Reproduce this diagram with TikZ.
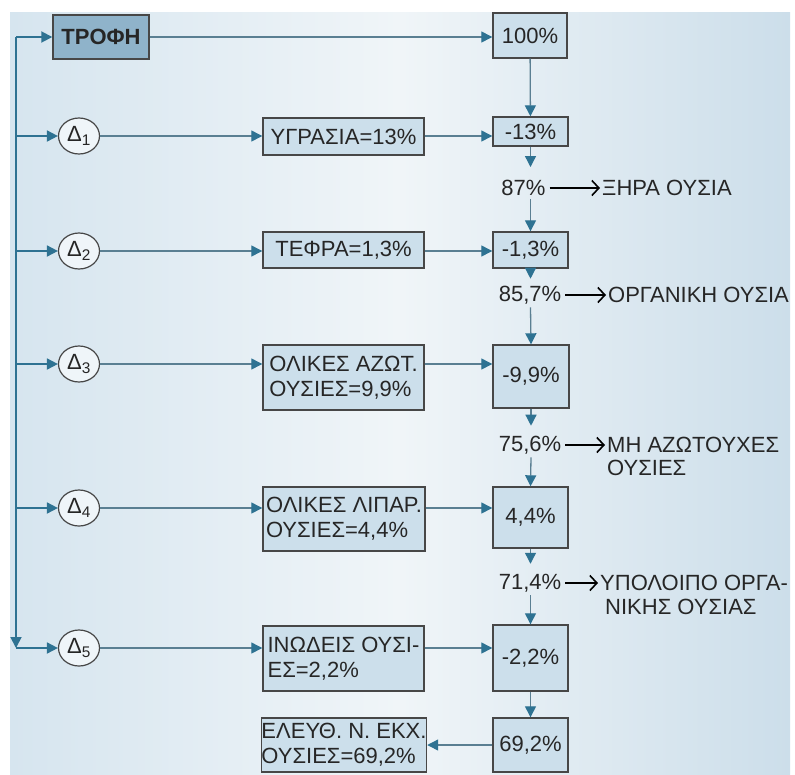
\documentclass[tikz,border=0pt]{standalone}
\usepackage{fontspec}
\setmainfont{Liberation Sans}
\usetikzlibrary{arrows.meta,shapes.geometric,calc}
\definecolor{bgblue}{HTML}{D6E5EF}
\definecolor{bgmid}{HTML}{F0F5F8}
\definecolor{bgright}{HTML}{CCDEEA}
\definecolor{boxfill}{HTML}{CCDFEB}
\definecolor{topfill}{HTML}{8FB3CA}
\definecolor{tealc}{HTML}{2E7292}
\definecolor{linec}{HTML}{5A7F92}
\definecolor{edgec}{HTML}{474747}
\definecolor{txt}{HTML}{262626}
\begin{document}
\begin{tikzpicture}[x=1pt,y=-1pt,
  every node/.style={font=\fontsize{22}{25}\selectfont, text=txt},
  abox/.style={draw=edgec, line width=1.4pt, fill=boxfill, inner sep=0pt, align=left},
  dnode/.style={ellipse, draw=edgec, line width=1.2pt, fill=bgblue!40!white, minimum width=41pt, minimum height=36pt, inner sep=0pt},
  pct/.style={inner xsep=4pt, inner ysep=3pt},
  lbl/.style={inner sep=0pt, anchor=west, align=left},
  tline/.style={draw=tealc, line width=1.8pt},
  flow/.style={draw=linec, line width=1.3pt},
  tarr/.style={-{Triangle[length=11pt,width=11pt,color=tealc]}},
  barr/.style={draw=black, line width=1.2pt, -{Straight Barb[length=7pt,width=15pt,line width=1.6pt]}, shorten >=2pt}]
\useasboundingbox (0,0) rectangle (795,774);
\fill[white] (0,0) rectangle (795,774);
\shade[left color=bgblue, right color=bgright, middle color=bgmid] (10,12) rectangle (790,774);

% top row
\node[abox, fill=topfill, minimum width=96pt, minimum height=44pt, font=\fontsize{22}{25}\selectfont\bfseries] (trofi) at (101,37) {ΤΡΟΦΗ};
\node[abox, minimum width=74pt, minimum height=45pt] (r0) at (530,35.5) {100\%};

% delta circles
\node[dnode] (d1) at (79,136) {Δ\textsubscript{1}};
\node[dnode] (d2) at (79,251) {Δ\textsubscript{2}};
\node[dnode] (d3) at (79,364) {Δ\textsubscript{3}};
\node[dnode] (d4) at (79,508) {Δ\textsubscript{4}};
\node[dnode] (d5) at (79,648) {Δ\textsubscript{5}};

% middle boxes
\node[abox, minimum width=161pt, minimum height=37pt] (b1) at (343.5,136.5) {ΥΓΡΑΣΙΑ=13\%};
\node[abox, minimum width=161pt, minimum height=36pt] (b2) at (343.5,250) {ΤΕΦΡΑ=1,3\%};
\node[abox, minimum width=161pt, minimum height=65pt] (b3) at (343.5,377.5) {ΟΛΙΚΕΣ ΑΖΩΤ.\\ΟΥΣΙΕΣ=9,9\%};
\node[abox, minimum width=162pt, minimum height=64pt] (b4) at (344,519) {ΟΛΙΚΕΣ ΛΙΠΑΡ.\\ΟΥΣΙΕΣ=4,4\%};
\node[abox, minimum width=161pt, minimum height=65pt] (b5) at (343.5,658.5) {ΙΝΩΔΕΙΣ ΟΥΣΙ-\\ΕΣ=2,2\%};
\node[abox, minimum width=162pt, minimum height=54pt] (b6) at (344,745) {ΕΛΕΥΘ. Ν. ΕΚΧ.\\ΟΥΣΙΕΣ=69,2\%};

% right boxes
\node[abox, minimum width=75pt, minimum height=29pt] (r1) at (530.5,131.5) {-13\%};
\node[abox, minimum width=75pt, minimum height=36pt] (r2) at (530.5,250) {-1,3\%};
\node[abox, minimum width=76pt, minimum height=63pt] (r3) at (531,376.5) {-9,9\%};
\node[abox, minimum width=75pt, minimum height=61pt] (r4) at (530.5,517.5) {4,4\%};
\node[abox, minimum width=75pt, minimum height=66pt] (r5) at (530.5,658) {-2,2\%};
\node[abox, minimum width=75pt, minimum height=54pt] (r6) at (530.5,745) {69,2\%};

% percentages
\node[pct] (p1) at (523.5,188) {87\%};
\node[pct] (p2) at (530,295) {85,7\%};
\node[pct] (p3) at (530,445) {75,6\%};
\node[pct] (p4) at (530,583) {71,4\%};

% labels
\node[lbl] (t1) at (602,188) {ΞΗΡΑ ΟΥΣΙΑ};
\node[lbl] (t2) at (608,295) {ΟΡΓΑΝΙΚΗ ΟΥΣΙΑ};
\node[lbl, font=\fontsize{22}{23}\selectfont] (t3) at (607,456.5) {ΜΗ ΑΖΩΤΟΥΧΕΣ\\ΟΥΣΙΕΣ};
\node[lbl, font=\fontsize{22}{24}\selectfont] (t4) at (600,595) {ΥΠΟΛΟΙΠΟ ΟΡΓΑ-\\\hspace*{5pt}ΝΙΚΗΣ ΟΥΣΙΑΣ};

% left trunk
\coordinate (top) at (16,37);
\coordinate (bot) at (16,648);
\draw[tline, tarr] (top) -- (trofi);
\draw[tline, tarr] (top) -- (bot);
\draw[tline, tarr] (top |- d1) -- (d1);
\draw[tline, tarr] (top |- d2) -- (d2);
\draw[tline, tarr] (top |- d3) -- (d3);
\draw[tline, tarr] (top |- d4) -- (d4);
\draw[tline, tarr] (bot) -- (d5);

% top connector
\draw[flow, tarr] (trofi) -- (trofi -| r0.west);

% delta to middle boxes, middle to right boxes
\foreach \i in {1,...,5}{
  \draw[flow, tarr] (d\i) -- (d\i -| b\i.west);
  \draw[flow, tarr] (d\i -| b\i.east) -- (d\i -| r\i.west);
}

% right column flow
\draw[flow, tarr] (r0) -- (r1);
\draw[flow, tarr] (r1.south) -- ($(r1.south |- p1.north)+(0,-10)$);
\draw[flow, tarr] (r1.south |- p1.south) -- (r2.north);
\draw[flow, tarr] (r2.south) -- ($(r2.south |- p2.north)+(0,-4)$);
\draw[flow, tarr] (r2.south |- p2.south) -- (r3.north);
\draw[flow, tarr] (r3.south) -- ($(r3.south |- p3.north)+(0,-7)$);
\draw[flow, tarr] (r3.south |- p3.south) -- (r4.north);
\draw[flow, tarr] (r4.south) -- ($(r4.south |- p4.north)+(0,-7)$);
\draw[flow, tarr] (r4.south |- p4.south) -- (r5.north);
\draw[flow, tarr] (r5) -- (r6);
\draw[flow, tarr] (r6) -- (b6);

% black result arrows
\draw[barr] (p1) -- (p1 -| t1.west);
\draw[barr] (p2) -- (p2 -| t2.west);
\draw[barr] (p3) -- (p3 -| t3.west);
\draw[barr] (p4) -- (p4 -| t4.west);
\end{tikzpicture}
\end{document}
